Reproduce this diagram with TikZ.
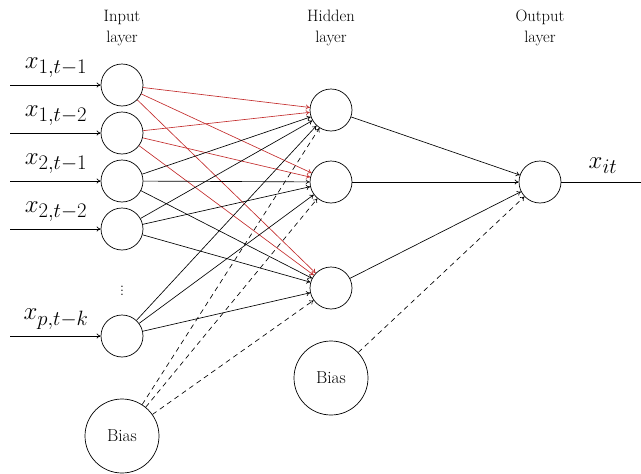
\documentclass[tikz,border=0pt]{standalone}
\usepackage{amsmath}
\usepackage{tikz}
\usetikzlibrary{arrows.meta, calc}
\definecolor{wred}{RGB}{195,45,45}

\begin{document}
\begin{tikzpicture}[x=1pt, y=-1pt,
	neuron/.style={draw, circle, minimum size=42pt, inner sep=0pt, line width=0.7pt},
	biasnode/.style={draw, circle, minimum size=74pt, inner sep=0pt, line width=0.7pt, font=\LARGE},
	layer/.style={align=center, font=\fontsize{16.5}{21}\selectfont},
	link/.style={-{To[length=4pt, width=5pt]}, line width=0.65pt},
	redlink/.style={link, draw=wred},
	biaslink/.style={link, dash pattern=on 5pt off 4pt}]
	\useasboundingbox (0,0) rectangle (641,474);
	
	% layer titles
	\node[layer] (tin) at (122,28) {Input\\layer};
	\node[layer] (thid) at (331,28) {Hidden\\layer};
	\node[layer] (tout) at (540,28) {Output\\layer};
	
	% input layer
	\foreach \n/\y/\lab in {1/85/{1,t-1}, 2/133/{1,t-2}, 3/181/{2,t-1}, 4/229/{2,t-2}, 5/336/{p,t-k}} {
		\node[neuron] (in\n) at (122,\y) {};
		\coordinate (src\n) at (10,\y);
		\node[font=\Huge] (lab\n) at (56,\y-17) {$x_{\lab}$};
		\draw[link] (src\n) -- (in\n);
	}
	\node[font=\Large] (dots) at (122,288) {$\vdots$};
	\node[biasnode] (biasin) at (122,436) {Bias};
	
	% hidden and output layer
	\foreach \n/\y in {1/110, 2/182, 3/288}
		\node[neuron] (hid\n) at (331,\y) {};
	\node[biasnode] (biashid) at (331,378) {Bias};
	\node[neuron] (out) at (540,182) {};
	
	% weights
	\foreach \i in {1,2}
		\foreach \h in {1,2,3}
			\draw[redlink] (in\i) -- (hid\h);
	\foreach \i in {3,4,5}
		\foreach \h in {1,2,3}
			\draw[link] (in\i) -- (hid\h);
	\foreach \h in {1,2,3} {
		\draw[biaslink] (biasin) -- (hid\h);
		\draw[link] (hid\h) -- (out);
	}
	\draw[biaslink] (biashid) -- (out);
	
	% output
	\coordinate (yend) at (641,182);
	\draw[line width=0.65pt] (out) -- (yend);
	\node[font=\Huge] (ylab) at (603,166) {$x_{it}$};
	
\end{tikzpicture}
\end{document}
